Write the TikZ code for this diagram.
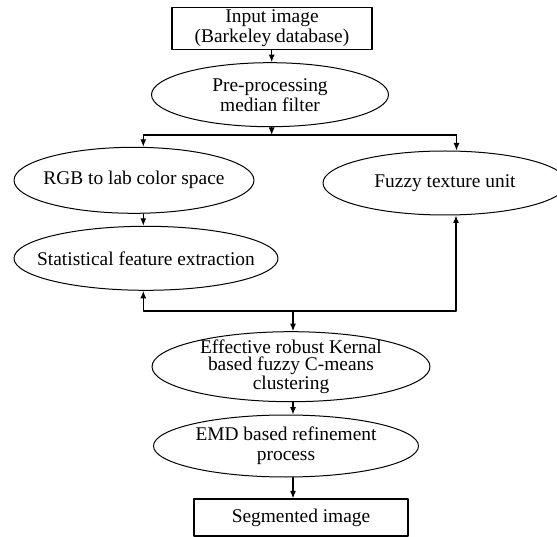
\documentclass[tikz,border=0pt]{standalone}
\usepackage{fontspec}
\setmainfont{Liberation Serif}
\usepackage{tikz}
\usetikzlibrary{arrows.meta,shapes.geometric}
\tikzset{
  every picture/.append style={line cap=round,line join=round},
  seg box/.style={draw,rectangle,line width=1.1pt,inner sep=0pt,align=center,font=\fontsize{19.4}{20}\selectfont},
  seg stage/.style={draw,ellipse,line width=1pt,inner xsep=-25pt,inner ysep=-6pt,align=center,font=\fontsize{19.4}{20}\selectfont},
  seg tight/.style={font=\fontsize{19.4}{17.2}\selectfont},
  seg flow/.style={line width=1.2pt,-{Latex[length=7.5pt,width=6pt]}}
}
\begin{document}
\begin{tikzpicture}[x=1pt,y=-1pt]
\useasboundingbox (0,0) rectangle (557,537);
\node[seg box,minimum width=200pt,minimum height=42pt] (input) at (272,28.3)
  {Input image\\(Barkeley database)};
\node[seg stage,minimum width=237pt,minimum height=64pt] (pre) at (270,94.7)
  {Pre-processing\\median filter};
\node[seg stage,minimum width=240pt,minimum height=66pt] (rgb) at (134,180.3)
  {RGB to lab color space};
\node[seg stage,minimum width=244pt,minimum height=64pt] (fuzzy) at (445,183)
  {Fuzzy texture unit};
\node[seg stage,minimum width=264pt,minimum height=64pt] (stat) at (146,258.3)
  {Statistical feature extraction};
\node[seg stage,seg tight,minimum width=278pt,minimum height=70pt] (kfcm) at (291,366.7)
  {Effective robust Kernal\\based fuzzy C-means\\clustering};
\node[seg stage,minimum width=265pt,minimum height=62pt] (emd) at (286,446)
  {EMD based refinement\\process};
\node[seg box,minimum width=214pt,minimum height=37pt] (output) at (301,517.5)
  {Segmented image};
\coordinate (split) at (271.7,135);
\coordinate (splitL) at (143.3,135);
\coordinate (splitR) at (456.5,135);
\coordinate (join) at (293,311);
\coordinate (joinL) at (143.3,311);
\coordinate (joinR) at (456,311);
\draw[seg flow] (input.south -| split) -- (pre.north -| split);
\draw[seg flow] (pre.south -| split) -- (split);
\draw[seg flow] (splitR) -- (splitL) -- (splitL |- rgb.north);
\draw[seg flow] (splitR) -- (splitR |- fuzzy.north);
\draw[seg flow] (rgb.south -| splitL) -- (stat.north -| splitL);
\draw[seg flow] (joinR) -- (joinL) -- (joinL |- stat.south);
\draw[seg flow] (joinR) -- (joinR |- fuzzy.south);
\draw[seg flow] (join) -- (join |- kfcm.north);
\draw[seg flow] (kfcm.south -| join) -- (emd.north -| join);
\draw[seg flow] (emd.south -| join) -- (output.north -| join);
\end{tikzpicture}
\end{document}
